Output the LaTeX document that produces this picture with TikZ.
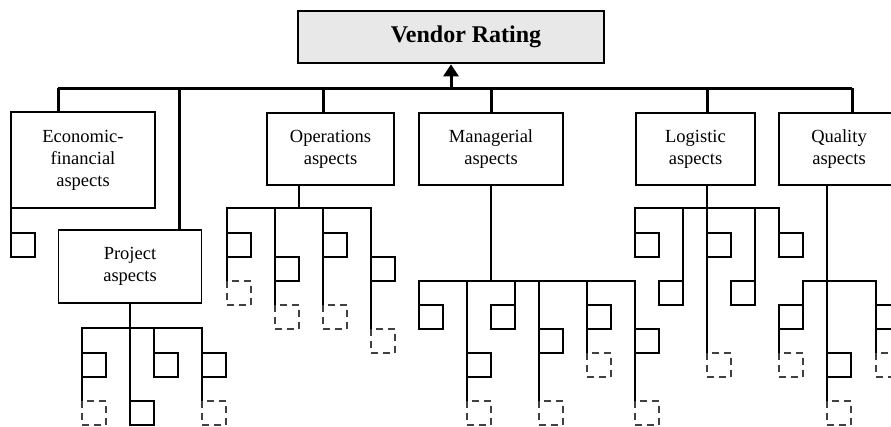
\documentclass[tikz,border=0pt]{standalone}
\usepackage{fontspec}
\setmainfont{Liberation Serif}
\usetikzlibrary{arrows.meta}

\tikzset{
    topbox/.style={draw,line width=2.6pt,fill=black!9,minimum width=306pt,
                   minimum height=52pt,font=\fontsize{24}{28}\selectfont\bfseries},
    aspect/.style={draw,line width=1.8pt,align=center,inner sep=0pt,
                   font=\fontsize{18.5}{22}\selectfont},
    leaf/.style={draw,line width=1.6pt,minimum size=24pt,inner sep=0pt,
                 outer sep=0pt,anchor=north west},
    open leaf/.style={leaf,draw=black!75,line width=1.2pt,dash pattern=on 7pt off 5pt},
    mainline/.style={line width=3pt},
    branch/.style={line width=1.9pt},
    tail/.style={line width=1.3pt},
}

\begin{document}
\begin{tikzpicture}[x=1pt,y=-1pt]
\clip (0,0) rectangle (891,426);
% top of the hierarchy
\node[topbox] (vr) at (451,37) {\hspace{30pt}Vendor Rating};
\coordinate (b0) at (451,88);
\coordinate (b1) at (58,88);
\coordinate (b2) at (179,88);
\coordinate (b3) at (323,88);
\coordinate (b4) at (491,88);
\coordinate (b5) at (707,88);
\coordinate (b6) at (852,88);
% aspect boxes
\begin{scope}[every node/.style={aspect}]
    \node[minimum width=144pt,minimum height=96pt] (eco) at (83,160) {Economic-\\financial\\aspects};
    \node[minimum width=143pt,minimum height=73pt] (proj) at (130,266.5) {Project\\aspects};
    \node[minimum width=127pt,minimum height=72pt] (oper) at (330.5,149) {Operations\\aspects};
    \node[minimum width=144pt,minimum height=72pt] (mana) at (491,149) {Managerial\\aspects};
    \node[minimum width=119pt,minimum height=72pt] (logi) at (695.5,149) {Logistic\\aspects};
    \node[minimum width=120pt,minimum height=72pt] (qual) at (839,149) {Quality\\aspects};
\end{scope}
\draw[mainline] (b1) -- (b6);
\draw[mainline,-{Triangle[length=12pt,width=15pt]}] (b0) -- (vr.south);
\draw[mainline] (b1) -- (b1 |- eco.north);
\draw[mainline] (b2) -- (b2 |- proj.north);
\draw[mainline] (b3) -- (b3 |- oper.north);
\draw[mainline] (b4) -- (b4 |- mana.north);
\draw[mainline] (b5) -- (b5 |- logi.north);
\draw[mainline] (b6) -- (b6 |- qual.north);
% criteria: solid and open squares
\begin{scope}[every node/.style={leaf}]
    \node (e1) at (11,233) {};
    % project
    \node (p1) at (82,353) {};
    \node (p2) at (130,401) {};
    \node (p3) at (154,353) {};
    \node (p4) at (202,353) {};
    % operations
    \node (o1) at (227,233) {};
    \node (o2) at (275,257) {};
    \node (o3) at (323,233) {};
    \node (o4) at (371,257) {};
    % managerial
    \node (m1) at (419,305) {};
    \node (m2) at (467,353) {};
    \node[anchor=north east] (m3) at (515,305) {};
    \node (m4) at (539,329) {};
    \node (m5) at (587,305) {};
    \node (m6) at (635,329) {};
    % logistic
    \node (l1) at (635,233) {};
    \node[anchor=north east] (l2) at (683,281) {};
    \node (l3) at (707,233) {};
    \node[anchor=north east] (l4) at (755,281) {};
    \node (l5) at (779,233) {};
    % quality
    \node[anchor=north east] (q1) at (803,305) {};
    \node (q2) at (827,353) {};
    \node (q3) at (876,305) {};
\end{scope}
\begin{scope}[every node/.style={open leaf}]
    \node (p1d) at (82,401) {};
    \node (p4d) at (202,401) {};
    \node (o1d) at (227,281) {};
    \node (o2d) at (275,305) {};
    \node (o3d) at (323,305) {};
    \node (o4d) at (371,329) {};
    \node (m2d) at (467,401) {};
    \node (m4d) at (539,401) {};
    \node (m5d) at (587,353) {};
    \node (m6d) at (635,401) {};
    \node (l3d) at (707,353) {};
    \node (q1d) at (779,353) {};
    \node (q2d) at (827,401) {};
    \node (q3d) at (876,353) {};
\end{scope}
% sub-buses
\coordinate (pb) at (130,328);
\coordinate (ob) at (299,208);
\coordinate (mb) at (491,281);
\coordinate (lb) at (707,208);
\coordinate (qb) at (827,281);
\begin{scope}[branch]
    \draw (e1.north west |- eco.south) -- (e1.north west);
    % project
    \draw (proj.south) -- (p2.north west);
    \draw (p1.north west) -- (p1.north west |- pb) -- (p4.north west |- pb) -- (p4.north west);
    \draw (p3.north west) -- (p3.north west |- pb);
    % operations
    \draw (ob |- oper.south) -- (ob);
    \draw (o1.north west) -- (o1.north west |- ob) -- (o4.north west |- ob) -- (o4.north west);
    \draw (o2.north west) -- (o2.north west |- ob);
    \draw (o3.north west) -- (o3.north west |- ob);
    % managerial
    \draw (mana.south) -- (mb);
    \draw (m1.north west) -- (m1.north west |- mb) -- (m6.north west |- mb) -- (m6.north west);
    \draw (m2.north west) -- (m2.north west |- mb);
    \draw (m3.north east) -- (m3.north east |- mb);
    \draw (m4.north west) -- (m4.north west |- mb);
    \draw (m5.north west) -- (m5.north west |- mb);
    % logistic
    \draw (l3.north west |- logi.south) -- (l3.north west);
    \draw (l1.north west) -- (l1.north west |- lb) -- (l5.north west |- lb) -- (l5.north west);
    \draw (l2.north east) -- (l2.north east |- lb);
    \draw (l4.north east) -- (l4.north east |- lb);
    % quality
    \draw (q2.north west |- qual.south) -- (q2.north west);
    \draw (q1.north east) -- (q1.north east |- qb) -- (q3.north west |- qb) -- (q3.north west);
\end{scope}
\begin{scope}[tail]
    \draw (p1.south west) -- (p1d.north west);
    \draw (p4.south west) -- (p4d.north west);
    \draw (o1.south west) -- (o1d.north west);
    \draw (o2.south west) -- (o2d.north west);
    \draw (o3.south west) -- (o3d.north west);
    \draw (o4.south west) -- (o4d.north west);
    \draw (m2.south west) -- (m2d.north west);
    \draw (m4.south west) -- (m4d.north west);
    \draw (m5.south west) -- (m5d.north west);
    \draw (m6.south west) -- (m6d.north west);
    \draw (l3.south west) -- (l3d.north west);
    \draw (q1.south west) -- (q1d.north west);
    \draw (q2.south west) -- (q2d.north west);
    \draw (q3.south west) -- (q3d.north west);
\end{scope}
\end{tikzpicture}
\end{document}
